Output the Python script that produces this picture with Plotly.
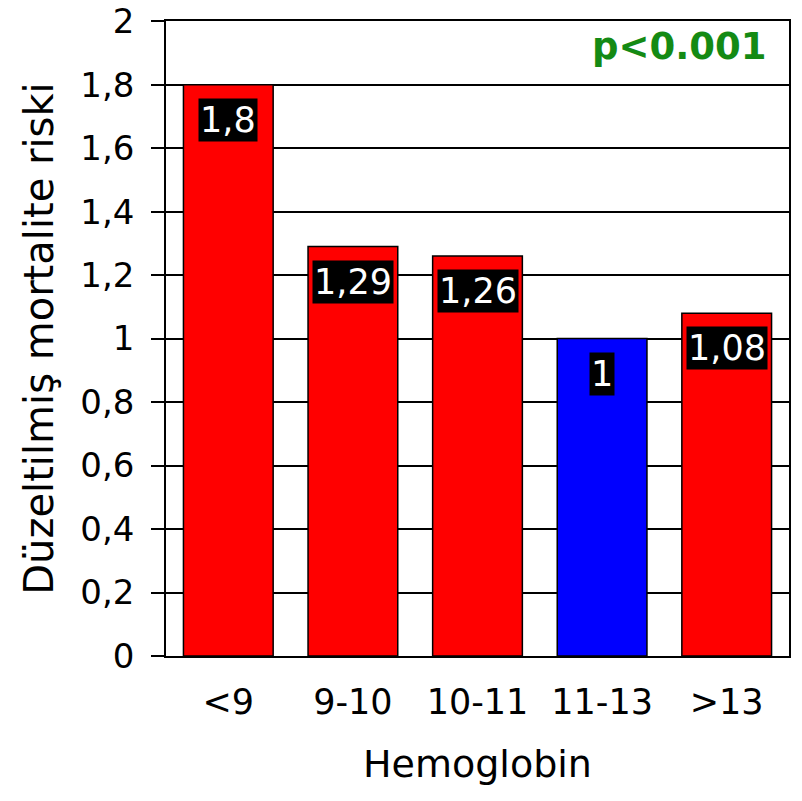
import plotly.graph_objects as go

categories = ["<9", "9-10", "10-11", "11-13", ">13"]
risk_values = [1.8, 1.29, 1.26, 1.0, 1.08]
value_labels = ["1,8", "1,29", "1,26", "1", "1,08"]
bar_colors = ["#FF0000", "#FF0000", "#FF0000", "#0000FF", "#FF0000"]
y_tick_vals = [0, 0.2, 0.4, 0.6, 0.8, 1.0, 1.2, 1.4, 1.6, 1.8, 2.0]
y_tick_text = ["0", "0,2", "0,4", "0,6", "0,8", "1", "1,2", "1,4", "1,6", "1,8", "2"]

FONT = "DejaVu Sans, Verdana, sans-serif"

fig = go.Figure()
fig.add_trace(go.Bar(
    x=categories,
    y=risk_values,
    marker=dict(color=bar_colors, line=dict(color="black", width=1.5)),
    width=0.72,
    hoverinfo="skip",
))

for cat, val, lab in zip(categories, risk_values, value_labels):
    fig.add_annotation(
        x=cat, y=val, xref="x", yref="y",
        text=lab, showarrow=False,
        yanchor="top", yshift=-13,
        font=dict(family=FONT, size=35, color="white"),
        bgcolor="black", borderpad=1,
    )

fig.add_annotation(
    x=1, y=1, xref="paper", yref="paper",
    text="<b>p<0.001</b>", showarrow=False,
    xanchor="right", yanchor="top", xshift=-20, yshift=-2,
    font=dict(family=FONT, size=37, color="#148A14"),
)

fig.update_layout(
    width=802, height=801,
    margin=dict(l=166, r=13, t=21, b=145),
    paper_bgcolor="white", plot_bgcolor="white",
    showlegend=False,
    font=dict(family=FONT, size=36, color="black"),
    bargap=0.28,
)

fig.update_xaxes(
    type="category",
    showline=True, linecolor="black", linewidth=1.5, mirror=True,
    showgrid=False, ticks="",
    tickfont=dict(family=FONT, size=35, color="black"),
    ticklabelstandoff=14,
    title=dict(text="Hemoglobin", font=dict(family=FONT, size=38, color="black"), standoff=30),
    automargin=False,
)

fig.update_yaxes(
    range=[0, 2.0005],
    tickvals=y_tick_vals, ticktext=y_tick_text,
    showline=True, linecolor="black", linewidth=1.5, mirror=True,
    showgrid=True, gridcolor="black", gridwidth=1.5,
    ticks="outside", ticklen=13, tickcolor="black", tickwidth=1.5,
    tickfont=dict(family=FONT, size=34, color="black"),
    ticklabelstandoff=10,
    ticklabeloverflow="allow",
    zeroline=False,
    title=dict(text="Düzeltilmiş mortalite riski", font=dict(family=FONT, size=40, color="black"), standoff=14),
    automargin=False,
)

fig.write_html("out.html")
